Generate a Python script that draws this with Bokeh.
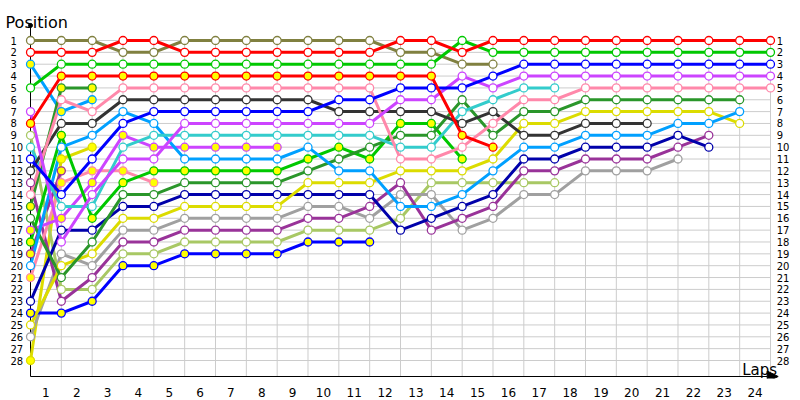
from bokeh.plotting import figure
from bokeh.models import Range1d, FixedTicker, Arrow, NormalHead
from bokeh.embed import file_html
from bokeh.resources import INLINE
from bokeh.core.properties import value

# ---------------- data ----------------
laps = list(range(0, 25))                      # lap 0 = starting grid
lap_labels = [str(n) for n in range(1, 25)]
positions = list(range(1, 29))
position_labels = [str(n) for n in positions]

# position after each lap (index 0 = grid); "_w" white markers, "_y" yellow markers
olive_w    = [1,1,1,2,2,1,1,1,1,1,1,1,2,2,3,3]
red_w      = [2,2,2,1,1,2,2,2,2,2,2,2,1,1,2,1,1,1,1,1,1,1,1,1,1]
green_w    = [5,3,3,3,3,3,3,3,3,3,3,3,3,3,1,2,2,2,2,2,2,2,2,2,2]
blue_w     = [11,14,11,8,7,7,7,7,7,7,6,6,5,5,5,4,3,3,3,3,3,3,3,3,3]
purple_w   = [7,18,14,11,11,8,8,8,8,8,8,8,6,6,4,5,4,4,4,4,4,4,4,4,4]
pink_w     = [14,6,7,5,5,5,5,5,5,5,5,5,11,11,10,8,6,6,5,5,5,5,5,5,5]
dkgreen_w  = [16,21,18,14,14,13,13,13,13,12,11,10,9,9,6,9,7,7,6,6,6,6,6,6]
yellow_w   = [25,20,19,16,16,15,15,15,15,13,13,13,12,12,12,11,8,8,7,7,7,7,7,8]
ltblue_w   = [20,10,9,7,8,11,11,11,11,10,12,12,15,15,14,12,10,10,9,9,9,8,8,7]
dkgray_w   = [12,8,8,6,6,6,6,6,6,6,7,7,7,7,8,7,9,9,8,8,8]
dkblue_w   = [23,17,17,15,15,14,14,14,14,14,14,14,17,16,15,14,11,11,10,10,10,9,10]
dkpurple_w = [13,23,21,18,18,17,17,17,17,16,16,15,13,17,16,15,12,12,11,11,11,10,9]
gray_w     = [26,19,20,17,17,16,16,16,16,15,15,16,14,14,17,16,14,14,12,12,12,11]
cyan_w     = [10,15,15,10,9,9,9,9,9,9,9,9,10,10,7,6,5,5]
ltgreen_w  = [9,22,22,19,19,18,18,18,18,17,17,17,16,13,13,13,13,13]
red_y      = [8,4,4,4,4,4,4,4,4,4,4,4,4,4,9,10]
green_y    = [18,9,16,13,12,12,12,12,12,11,10,11,8,8,11]
blue_y     = [24,24,23,20,20,19,19,19,19,18,18,18]
purple_y   = [17,16,13,9,10,10,10,10,10]
pink_y     = [21,13,12,12,13]
ltblue_y   = [3,7,6]
dkgreen_y  = [15,5,5]
yellow_y   = [28,11,10]
dkpurple_y = [19,12]

# ---------------- styles ----------------
C = {
    "olive": "#808040", "red": "#ff0000", "green": "#00c800", "blue": "#0000ff",
    "purple": "#cc44ff", "pink": "#ff88aa", "dkgreen": "#2a962a", "yellow": "#dcdc00",
    "ltblue": "#00a0ff", "dkgray": "#333333", "dkblue": "#0000aa", "dkpurple": "#993399",
    "gray": "#a0a0a0", "cyan": "#33cccc", "ltgreen": "#a8c864",
}
WHITE, YELLOW = "#ffffff", "#ffff00"
series = [
    (yellow_y, C["yellow"], YELLOW), (dkpurple_y, C["dkpurple"], YELLOW),
    (ltgreen_w, C["ltgreen"], WHITE), (gray_w, C["gray"], WHITE),
    (dkpurple_w, C["dkpurple"], WHITE), (blue_y, C["blue"], YELLOW),
    (dkblue_w, C["dkblue"], WHITE), (yellow_w, C["yellow"], WHITE),
    (pink_y, C["pink"], YELLOW), (purple_y, C["purple"], YELLOW),
    (green_y, C["green"], YELLOW), (dkgreen_w, C["dkgreen"], WHITE),
    (ltblue_w, C["ltblue"], WHITE), (cyan_w, C["cyan"], WHITE),
    (dkgray_w, C["dkgray"], WHITE), (ltblue_y, C["ltblue"], YELLOW),
    (dkgreen_y, C["dkgreen"], YELLOW), (pink_w, C["pink"], WHITE),
    (purple_w, C["purple"], WHITE), (blue_w, C["blue"], WHITE),
    (red_y, C["red"], YELLOW), (olive_w, C["olive"], WHITE),
    (green_w, C["green"], WHITE), (red_w, C["red"], WHITE),
]

# ---------------- geometry (page pixels) ----------------
COL_PX = 30.833     # px per lap
ROW_PX = 11.852     # px per position
FRAME_W, FRAME_H = 792, 378
x0 = (0 - 30) / COL_PX
y_top = (0 - 40) / ROW_PX + 1
y_bot = y_top + FRAME_H / ROW_PX
axis_y = (376 - 40) / ROW_PX + 1

p = figure(frame_width=FRAME_W, frame_height=FRAME_H,
           x_range=Range1d(x0, x0 + FRAME_W / COL_PX),
           y_range=Range1d(y_bot, y_top),
           output_backend="svg", toolbar_location=None,
           y_axis_location=None,
           min_border_left=0, min_border_right=0, min_border_top=0, min_border_bottom=0)
p.outline_line_color = None
p.xgrid.visible = False
p.ygrid.visible = False
p.background_fill_color = "white"

ax = p.xaxis[0]
ax.ticker = FixedTicker(ticks=[n - 0.5 for n in range(1, 25)])
ax.major_label_overrides = {n - 0.5: lab for n, lab in zip(range(1, 25), lap_labels)}
ax.axis_line_color = None
ax.major_tick_line_color = None
ax.minor_tick_line_color = None
ax.major_label_standoff = 3
ax.major_label_text_font = "DejaVu Sans"
ax.major_label_text_font_size = "12px"
ax.major_label_text_color = "#000000"

# grid
grid_col = "#cccccc"
p.segment(x0=[0] * len(positions), y0=positions, x1=[laps[-1]] * len(positions), y1=positions,
          line_color=grid_col, line_width=1)
p.segment(x0=laps[1:], y0=[1] * len(laps[1:]), x1=laps[1:], y1=[axis_y] * len(laps[1:]),
          line_color=grid_col, line_width=1)

# y axis line with dot
p.segment(x0=[0], y0=[-0.27], x1=[0], y1=[axis_y], line_color="black", line_width=1)
p.scatter(x=[0], y=[-0.27], size=4, color="black")
# x axis with arrow
p.add_layout(Arrow(end=NormalHead(size=11, fill_color="black", line_color="black"),
                   x_start=0, y_start=axis_y, x_end=24.25, y_end=axis_y,
                   line_color="black", line_width=1))

for vals, col, fill in series:
    p.line(x=laps[:len(vals)], y=vals, line_color=col, line_width=3)
for vals, col, fill in series:
    p.scatter(x=laps[:len(vals)], y=vals, marker="circle", size=8,
              fill_color=fill, line_color=col, line_width=1.3)

# position labels both sides
font = value("DejaVu Sans")
p.text(x=[-0.649] * len(positions), y=positions, text=position_labels,
       text_align="left", text_baseline="middle", text_font=font,
       text_font_size="10px", text_color="black")
p.text(x=[24.2] * len(positions), y=positions, text=position_labels,
       text_align="left", text_baseline="middle", text_font=font,
       text_font_size="10px", text_color="black")

# axis titles
p.text(x=[-0.81], y=[-0.52], text=["Position"], text_align="left",
       text_baseline="alphabetic", text_font=font, text_font_size="16px", text_color="black")
p.text(x=[23.08], y=[28.8], text=["Laps"], text_align="left",
       text_baseline="alphabetic", text_font=font, text_font_size="15px", text_color="black")

open("out.html", "w").write(file_html(p, INLINE))
